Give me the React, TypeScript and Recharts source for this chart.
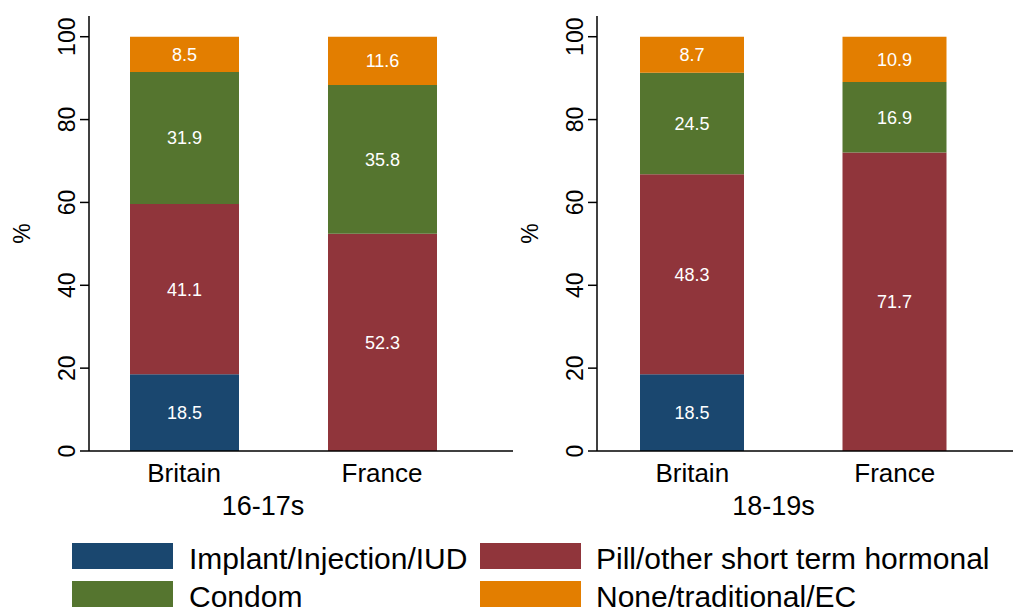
import React from "react";
import { BarChart, Bar, XAxis, YAxis, LabelList, Label } from "recharts";

// categories and values (%)
const countries = ["Britain", "France"];
const groups = ["16-17s", "18-19s"];
const yTicks = [0, 20, 40, 60, 80, 100];

const implant1617 = [18.5, 0];
const pill1617 = [41.1, 52.3];
const condom1617 = [31.9, 35.8];
const none1617 = [8.5, 11.6];

const implant1819 = [18.5, 0];
const pill1819 = [48.3, 71.7];
const condom1819 = [24.5, 16.9];
const none1819 = [8.7, 10.9];

const series = [
  { key: "implant", name: "Implant/Injection/IUD", color: "#1a476f" },
  { key: "pill", name: "Pill/other short term hormonal", color: "#90353b" },
  { key: "condom", name: "Condom", color: "#55752f" },
  { key: "none", name: "None/traditional/EC", color: "#e37e00" },
];

const FONT = "'Liberation Sans', Arial, sans-serif";

// bars are stacked as shares of 100 (rounded values don't always add up), labels show the raw values
function buildRows(implant: number[], pill: number[], condom: number[], none: number[]) {
  return countries.map((c, i) => {
    const raw: Record<string, number> = {
      implant: implant[i],
      pill: pill[i],
      condom: condom[i],
      none: none[i],
    };
    const total = raw.implant + raw.pill + raw.condom + raw.none;
    const row: any = { country: c };
    for (const k of Object.keys(raw)) {
      row[k] = (raw[k] / total) * 100;
      row[k + "Raw"] = raw[k];
    }
    return row;
  });
}

const data1617 = buildRows(implant1617, pill1617, condom1617, none1617);
const data1819 = buildRows(implant1819, pill1819, condom1819, none1819);

const YTick = (props: any) => {
  const { x, y, payload } = props;
  return (
    <text
      x={x - 5}
      y={y}
      transform={`rotate(-90, ${x - 5}, ${y})`}
      textAnchor="middle"
      fontSize={23}
      fontFamily={FONT}
      fill="#000"
    >
      {payload.value}
    </text>
  );
};

function Panel({
  data,
  left,
  width,
  group,
  pad,
  barSize,
  groupDx,
}: {
  data: any[];
  left: number;
  width: number;
  group: string;
  pad: { left: number; right: number };
  barSize: number;
  groupDx: number;
}) {
  return (
    <div style={{ position: "absolute", left, top: 0 }}>
      <BarChart
        width={width}
        height={530}
        data={data}
        margin={{ top: 16, right: 1, bottom: 19, left: 0 }}
        barSize={barSize}
      >
        <XAxis
          dataKey="country"
          padding={pad}
          tickLine={false}
          tickSize={0}
          tickMargin={13}
          height={60}
          axisLine={{ stroke: "#000", strokeWidth: 1.5 }}
          tick={{ fontSize: 26, fill: "#000", fontFamily: FONT }}
        >
          <Label
            content={(p: any) => {
              const vb = p.viewBox;
              const bandMid = vb.x + pad.left + (vb.width - pad.left - pad.right) / 2;
              return (
                <text
                  x={bandMid + groupDx}
                  y={vb.y + 64}
                  textAnchor="middle"
                  fontSize={27}
                  fontFamily={FONT}
                  fill="#000"
                >
                  {group}
                </text>
              );
            }}
          />
        </XAxis>
        <YAxis
          width={89}
          domain={[0, 105]}
          ticks={yTicks}
          tickSize={9}
          tickMargin={0}
          interval={0}
          axisLine={{ stroke: "#000", strokeWidth: 1.5 }}
          tickLine={{ stroke: "#000", strokeWidth: 1.5 }}
          tick={<YTick />}
        >
          <Label
            content={(p: any) => {
              const vb = p.viewBox;
              const cx = vb.x + 30;
              const cy = vb.y + vb.height / 2;
              return (
                <text
                  x={cx}
                  y={cy}
                  transform={`rotate(-90, ${cx}, ${cy})`}
                  textAnchor="middle"
                  fontSize={23}
                  fontFamily={FONT}
                  fill="#000"
                >
                  %
                </text>
              );
            }}
          />
        </YAxis>
        {series.map((s) => (
          <Bar
            key={s.key}
            dataKey={s.key}
            name={s.name}
            stackId="a"
            fill={s.color}
            isAnimationActive={false}
          >
            <LabelList
              dataKey={s.key + "Raw"}
              position="center"
              fill="#fff"
              fontSize={18}
              fontFamily={FONT}
              formatter={(v: any) => (v ? Number(v).toFixed(1) : "")}
            />
          </Bar>
        ))}
      </BarChart>
    </div>
  );
}

const legendCols = [
  { box: 72, text: 189 },
  { box: 480, text: 596 },
];
const legendRows = [543, 581];

export default function App() {
  // legend order: row-major, two columns
  const legendOrder = ["implant", "pill", "condom", "none"];
  return (
    <div
      style={{
        position: "absolute",
        left: 0,
        top: 0,
        width: 1014,
        height: 612,
        background: "#fff",
        overflow: "hidden",
      }}
    >
      <Panel
        data={data1617}
        left={0}
        width={514}
        group={groups[0]}
        pad={{ left: -4, right: 32 }}
        barSize={109}
        groupDx={-20}
      />
      <Panel
        data={data1819}
        left={508}
        width={506}
        group={groups[1]}
        pad={{ left: -6, right: 17 }}
        barSize={104}
        groupDx={-20}
      />
      <svg
        width={1014}
        height={612}
        style={{ position: "absolute", left: 0, top: 0, pointerEvents: "none" }}
      >
        {legendOrder.map((k, i) => {
          const s = series.find((d) => d.key === k)!;
          const col = legendCols[i % 2];
          const y = legendRows[Math.floor(i / 2)];
          return (
            <g key={k}>
              <rect x={col.box} y={y} width={101} height={26} fill={s.color} />
              <text x={col.text} y={y + 26} fontSize={30} fontFamily={FONT} fill="#000">
                {s.name}
              </text>
            </g>
          );
        })}
      </svg>
    </div>
  );
}
